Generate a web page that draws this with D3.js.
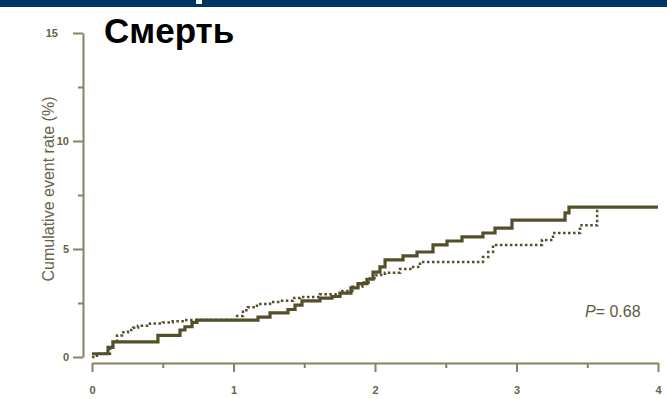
<!DOCTYPE html>
<html>
<head>
<meta charset="utf-8">
<script src="https://cdn.jsdelivr.net/npm/d3@7"></script>
<style>
  body { margin: 0; background: #fff; }
  svg { display: block; }
</style>
</head>
<body>
<svg id="chart" width="667" height="399"></svg>
<script>
// Kaplan–Meier style cumulative event curves (death), years 0–4
const titleText = "Смерть";
const yLabel = "Cumulative event rate (%)";
const pLabel = "= 0.68";

const yearTicks = [0, 1, 2, 3, 4];
const yearMinorTicks = [0.5, 1.5, 2.5, 3.5];
const rateTicks = [0, 5, 10, 15];
const rateMinorTicks = [2.5, 7.5, 12.5];

// solid curve: step times (years) and cumulative rate (%) after each step
const solidTimes  = [0, 0.113, 0.148, 0.466, 0.622, 0.657, 0.707, 0.742, 1.173, 1.258, 1.385, 1.435, 1.484, 1.611, 1.696, 1.753, 1.83, 1.88, 1.943, 1.986, 2.035, 2.071, 2.198, 2.297, 2.41, 2.509, 2.615, 2.763, 2.848, 2.968, 3.343, 3.371, 4.0];
const solidRates  = [0.15, 0.45, 0.7, 1.0, 1.25, 1.4, 1.6, 1.71, 1.85, 2.04, 2.2, 2.4, 2.6, 2.73, 2.8, 2.96, 3.2, 3.4, 3.6, 3.93, 4.17, 4.5, 4.68, 4.86, 5.19, 5.37, 5.56, 5.74, 5.97, 6.34, 6.67, 6.94, 6.94];

// dotted curve
const dottedTimes = [0, 0.035, 0.127, 0.148, 0.177, 0.212, 0.254, 0.29, 0.325, 0.41, 0.5, 0.57, 0.65, 1.025, 1.067, 1.102, 1.166, 1.258, 1.329, 1.42, 1.47, 1.61, 1.75, 1.84, 1.91, 1.965, 2.01, 2.07, 2.177, 2.26, 2.318, 2.763, 2.8, 2.834, 3.18, 3.258, 3.449, 3.57];
const dottedRates = [0, 0.15, 0.4, 0.7, 1.0, 1.15, 1.25, 1.35, 1.45, 1.55, 1.6, 1.65, 1.71, 1.9, 2.17, 2.3, 2.45, 2.55, 2.6, 2.73, 2.78, 2.9, 3.05, 3.25, 3.45, 3.65, 3.8, 3.9, 4.07, 4.17, 4.4, 4.63, 4.86, 5.19, 5.42, 5.74, 6.1, 6.9];

const lineColor = "#534f28";
const axisColor = "#87835f";
const textColor = "#66634a";

const svg = d3.select("#chart");

// header band
svg.append("rect").attr("x", 0).attr("y", 0).attr("width", 667).attr("height", 7).attr("fill", "#003366");
svg.append("rect").attr("x", 196).attr("y", 0).attr("width", 6).attr("height", 4).attr("fill", "#ffffff");

const x = d3.scaleLinear().domain([0, 4]).range([92, 658]);
const y = d3.scaleLinear().domain([0, 15]).range([357, 33]);

const fontAxis = "'Liberation Sans', Arial, sans-serif";

// y axis
const yAxisG = svg.append("g").attr("transform", "translate(83,0)");
yAxisG.call(d3.axisLeft(y).tickValues(rateTicks).tickSize(10).tickSizeOuter(0).tickPadding(4));
yAxisG.append("g").call(d3.axisLeft(y).tickValues(rateMinorTicks).tickSize(5).tickFormat(""))
  .select(".domain").remove();
// the top label sits a little further out
yAxisG.selectAll(".tick text").filter((d) => d === 15).attr("dx", -11);

// x axis
const xAxisG = svg.append("g").attr("transform", "translate(0,363)");
xAxisG.call(d3.axisBottom(x).tickValues(yearTicks).tickFormat(d3.format("d"))
  .tickSize(9).tickSizeOuter(0).tickPadding(14));
xAxisG.append("g").call(d3.axisBottom(x).tickValues(yearMinorTicks).tickSize(5).tickFormat(""))
  .select(".domain").remove();

svg.selectAll(".domain, .tick line")
  .attr("stroke", axisColor).attr("stroke-width", 2);
svg.selectAll(".tick text")
  .attr("fill", textColor)
  .style("font-family", fontAxis)
  .style("font-size", "11px")
  .style("font-weight", "bold");

// y axis title
svg.append("text")
  .attr("transform", "translate(54,189) rotate(-90)")
  .attr("text-anchor", "middle")
  .attr("fill", textColor)
  .style("font-family", fontAxis)
  .style("font-size", "16px")
  .text(yLabel);

// curves
const line = d3.line()
  .x((d) => x(d[0]))
  .y((d) => y(d[1]))
  .curve(d3.curveStepAfter);

const solidData = solidTimes.map((t, i) => [t, solidRates[i]]);
const dottedData = dottedTimes.map((t, i) => [t, dottedRates[i]]);

svg.append("path")
  .datum(dottedData)
  .attr("d", line)
  .attr("fill", "none")
  .attr("stroke", lineColor)
  .attr("stroke-width", 2.5)
  .attr("stroke-dasharray", "2.5,2.5");

svg.append("path")
  .datum(solidData)
  .attr("d", line)
  .attr("fill", "none")
  .attr("stroke", lineColor)
  .attr("stroke-width", 3.2);

// p-value
const pText = svg.append("text")
  .attr("x", 585).attr("y", 317)
  .attr("fill", "#5e5b40")
  .style("font-family", fontAxis)
  .style("font-size", "16px");
pText.append("tspan").style("font-style", "italic").text("P");
pText.append("tspan").text(pLabel);

// title
svg.append("text")
  .attr("x", 104).attr("y", 43)
  .attr("fill", "#000")
  .style("font-family", fontAxis)
  .style("font-size", "35px")
  .style("font-weight", "bold")
  .text(titleText);
</script>
</body>
</html>
